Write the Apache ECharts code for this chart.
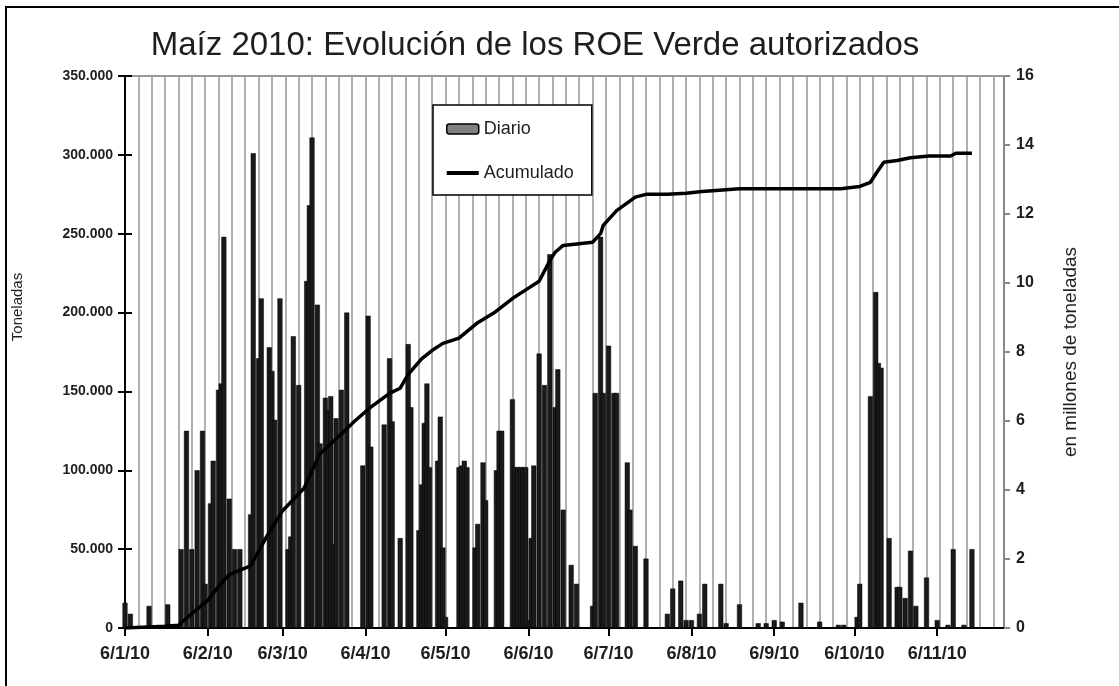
<!DOCTYPE html>
<html>
<head>
<meta charset="utf-8">
<title>Maíz 2010: Evolución de los ROE Verde autorizados</title>
<script src="https://cdn.jsdelivr.net/npm/echarts@6/dist/echarts.min.js"></script>
<style>
  html, body { margin: 0; padding: 0; background: #fff; }
  #chart { width: 1119px; height: 686px; }
</style>
</head>
<body>
<div id="chart"></div>
<script>
// ROE Verde maíz 2010 - toneladas diarias y acumulado (millones)
var diarioFechas = [
  '2010-01-06', '2010-01-08', '2010-01-15', '2010-01-22', '2010-01-27', '2010-01-29', '2010-01-31',
  '2010-02-02', '2010-02-04', '2010-02-05', '2010-02-07', '2010-02-08', '2010-02-10', '2010-02-11',
  '2010-02-12', '2010-02-14', '2010-02-16', '2010-02-18', '2010-02-22', '2010-02-23', '2010-02-25',
  '2010-02-26', '2010-03-01', '2010-03-02', '2010-03-03', '2010-03-05', '2010-03-08', '2010-03-09',
  '2010-03-10', '2010-03-12', '2010-03-15', '2010-03-16', '2010-03-17', '2010-03-19', '2010-03-20',
  '2010-03-22', '2010-03-23', '2010-03-24', '2010-03-25', '2010-03-26', '2010-03-28', '2010-03-30',
  '2010-04-05', '2010-04-07', '2010-04-08', '2010-04-13', '2010-04-15', '2010-04-16', '2010-04-19',
  '2010-04-22', '2010-04-23', '2010-04-26', '2010-04-27', '2010-04-28', '2010-04-29', '2010-04-30',
  '2010-05-03', '2010-05-04', '2010-05-05', '2010-05-06', '2010-05-11', '2010-05-12', '2010-05-13',
  '2010-05-14', '2010-05-17', '2010-05-18', '2010-05-20', '2010-05-21', '2010-05-25', '2010-05-26',
  '2010-05-27', '2010-05-31', '2010-06-01', '2010-06-02', '2010-06-03', '2010-06-04', '2010-06-05',
  '2010-06-06', '2010-06-07', '2010-06-08', '2010-06-10', '2010-06-12', '2010-06-14', '2010-06-16',
  '2010-06-17', '2010-06-19', '2010-06-22', '2010-06-24', '2010-06-30', '2010-07-01', '2010-07-03',
  '2010-07-04', '2010-07-06', '2010-07-08', '2010-07-09', '2010-07-13', '2010-07-14', '2010-07-16',
  '2010-07-20', '2010-07-28', '2010-07-30', '2010-08-02', '2010-08-04', '2010-08-06', '2010-08-09',
  '2010-08-11', '2010-08-17', '2010-08-19', '2010-08-24', '2010-08-31', '2010-09-03', '2010-09-06',
  '2010-09-09', '2010-09-16', '2010-09-23', '2010-09-30', '2010-10-02', '2010-10-07', '2010-10-08',
  '2010-10-12', '2010-10-14', '2010-10-15', '2010-10-16', '2010-10-19', '2010-10-22', '2010-10-23',
  '2010-10-25', '2010-10-27', '2010-10-29', '2010-11-02', '2010-11-06', '2010-11-10', '2010-11-12',
  '2010-11-16', '2010-11-19'
];
var diarioToneladas = [
  16000, 9000, 14000, 15000, 50000, 125000, 50000,
  100000, 125000, 28000, 79000, 106000, 151000, 155000,
  248000, 82000, 50000, 50000, 72000, 301000, 171000,
  209000, 178000, 163000, 132000, 209000, 50000, 58000,
  185000, 154000, 220000, 268000, 311000, 205000, 117000,
  146000, 138000, 147000, 53000, 133000, 151000, 200000,
  103000, 198000, 115000, 129000, 171000, 131000, 57000,
  180000, 140000, 62000, 91000, 130000, 155000, 102000,
  106000, 134000, 51000, 7000, 102000, 103000, 106000,
  102000, 51000, 66000, 105000, 81000, 100000, 125000,
  125000, 145000, 102000, 102000, 102000, 102000, 102000,
  5000, 57000, 103000, 174000, 154000, 237000, 140000,
  164000, 75000, 40000, 28000, 14000, 149000, 248000,
  149000, 179000, 149000, 149000, 105000, 75000, 52000,
  44000, 9000, 25000, 30000, 5000, 5000, 9000,
  28000, 28000, 3000, 15000, 3000, 3000, 5000,
  4000, 16000, 4000, 2000, 2000, 7000, 28000,
  147000, 213000, 168000, 165000, 57000, 26000, 26000,
  19000, 49000, 14000, 32000, 5000, 2000, 50000,
  2000, 50000
];

var acumFechas = [
  '2010-01-06', '2010-01-21', '2010-01-26', '2010-01-30', '2010-02-06', '2010-02-10', '2010-02-14',
  '2010-02-22', '2010-02-28', '2010-03-06', '2010-03-14', '2010-03-20', '2010-03-27', '2010-04-02',
  '2010-04-08', '2010-04-15', '2010-04-19', '2010-04-22', '2010-04-27', '2010-05-01', '2010-05-05',
  '2010-05-11', '2010-05-18', '2010-05-24', '2010-05-31', '2010-06-05', '2010-06-10', '2010-06-14',
  '2010-06-16', '2010-06-19', '2010-06-30', '2010-07-03', '2010-07-04', '2010-07-09', '2010-07-16',
  '2010-07-20', '2010-07-28', '2010-08-04', '2010-08-10', '2010-08-24', '2010-10-01', '2010-10-08',
  '2010-10-12', '2010-10-14', '2010-10-17', '2010-10-22', '2010-10-27', '2010-11-03', '2010-11-11',
  '2010-11-13', '2010-11-19'
];
var acumMillones = [
  0, 0.05, 0.08, 0.35, 0.8, 1.2, 1.55,
  1.8, 2.65, 3.4, 4.05, 5.05, 5.55, 6.0,
  6.4, 6.8, 6.95, 7.35, 7.8, 8.05, 8.25,
  8.4, 8.85, 9.13, 9.55, 9.8, 10.05, 10.65,
  10.89, 11.09, 11.18, 11.43, 11.67, 12.1, 12.49,
  12.57, 12.57, 12.6, 12.65, 12.73, 12.73, 12.8,
  12.92, 13.16, 13.5, 13.55, 13.63, 13.68, 13.68,
  13.76, 13.76
];

// etiquetas del eje x (el 6 de cada mes)
var etiquetasX = [
  '2010-01-06', '2010-02-06', '2010-03-06', '2010-04-06', '2010-05-06', '2010-06-06',
  '2010-07-06', '2010-08-06', '2010-09-06', '2010-10-06', '2010-11-06'
];
var inicioEje = '2010-01-06';
var finEje = '2010-12-01';

// fecha -> dias desde el inicio del eje
function dia(s) {
  var p = s.split('-');
  var t = Date.UTC(+p[0], +p[1] - 1, +p[2]);
  var q = inicioEje.split('-');
  return Math.round((t - Date.UTC(+q[0], +q[1] - 1, +q[2])) / 86400000);
}
function etiqueta(d) {
  var q = inicioEje.split('-');
  var f = new Date(Date.UTC(+q[0], +q[1] - 1, +q[2]) + d * 86400000);
  return f.getUTCDate() + '/' + (f.getUTCMonth() + 1) + '/' + String(f.getUTCFullYear()).slice(2);
}
function pares(fechas, valores) {
  return fechas.map(function (f, i) { return [dia(f), valores[i]]; });
}

var diasTotales = dia(finEje);
var fuente = "'Liberation Sans', Arial, sans-serif";

var chart = echarts.init(document.getElementById('chart'));
var option = {
  backgroundColor: '#fff',
  animation: false,
  textStyle: { fontFamily: fuente },
  graphic: [
    {
      type: 'rect', z: -1, silent: true,
      shape: { x: 6, y: 7, width: 1200, height: 800 },
      style: { fill: 'none', stroke: '#000', lineWidth: 2 }
    },
    {
      type: 'text', silent: true,
      x: 535, y: 46,
      style: {
        text: 'Maíz 2010: Evolución de los ROE Verde autorizados',
        textAlign: 'center', textVerticalAlign: 'middle',
        font: "33px 'Liberation Sans', Arial, sans-serif",
        fill: '#1e1e1e'
      }
    },
    {
      type: 'text', silent: true,
      x: 18, y: 307, rotation: Math.PI / 2,
      style: {
        text: 'Toneladas', textAlign: 'center', textVerticalAlign: 'middle',
        font: "15px 'Liberation Sans', Arial, sans-serif", fill: '#1e1e1e'
      }
    },
    {
      type: 'text', silent: true,
      x: 1071, y: 352, rotation: Math.PI / 2,
      style: {
        text: 'en millones de toneladas', textAlign: 'center', textVerticalAlign: 'middle',
        font: "19px 'Liberation Sans', Arial, sans-serif", fill: '#1e1e1e'
      }
    }
  ],
  legend: {
    orient: 'vertical',
    left: 433,
    top: 105,
    padding: [15, 18, 13, 13],
    itemGap: 26,
    itemWidth: 32,
    itemHeight: 10,
    backgroundColor: '#fff',
    borderColor: '#000',
    borderWidth: 1.5,
    borderRadius: 0,
    textStyle: { fontFamily: fuente, fontSize: 18, color: '#1e1e1e' },
    data: [
      { name: 'Diario', icon: 'roundRect', itemStyle: { color: '#808080', borderColor: '#000', borderWidth: 1.5 } },
      { name: 'Acumulado', icon: 'path://M0,0 L32,0 L32,4 L0,4 Z', itemStyle: { color: '#000', borderWidth: 0 } }
    ]
  },
  grid: { left: 125, right: 115, top: 76, bottom: 58, containLabel: false },
  xAxis: [
    {
      type: 'value',
      min: 0,
      max: diasTotales,
      axisLine: { onZero: false, lineStyle: { color: '#000', width: 2 } },
      axisTick: {
        show: true, length: 8, lineStyle: { color: '#000', width: 2 },
        customValues: etiquetasX.map(dia)
      },
      axisLabel: {
        customValues: etiquetasX.map(dia),
        hideOverlap: false,
        margin: 17,
        fontFamily: fuente, fontSize: 18, fontWeight: 'bold', color: '#1e1e1e',
        formatter: function (v) { return etiqueta(v); }
      },
      splitLine: { show: false }
    },
    {
      // rejilla vertical cada 5 dias
      type: 'value',
      position: 'top',
      min: 0,
      max: diasTotales,
      interval: 5,
      axisLine: { show: true, onZero: false, lineStyle: { color: '#999', width: 2 } },
      axisTick: { show: false },
      axisLabel: { show: false },
      splitLine: { show: true, lineStyle: { color: '#b0b0b0', width: 2 } }
    }
  ],
  yAxis: [
    {
      type: 'value',
      position: 'left',
      min: 0, max: 350000, interval: 50000,
      axisLine: { show: true, onZero: false, lineStyle: { color: '#000', width: 2 } },
      axisTick: { show: true, length: 7, lineStyle: { color: '#000', width: 2 } },
      axisLabel: {
        fontFamily: fuente, fontSize: 14, fontWeight: 'bold', color: '#1e1e1e', margin: 12,
        formatter: function (v) { return v === 0 ? '0' : (v / 1000) + '.000'; }
      },
      splitLine: { show: false }
    },
    {
      type: 'value',
      position: 'right',
      min: 0, max: 16, interval: 2,
      axisLine: { show: true, onZero: false, lineStyle: { color: '#888', width: 2 } },
      axisTick: { show: true, length: 6, lineStyle: { color: '#888', width: 2 } },
      axisLabel: { fontFamily: fuente, fontSize: 16, fontWeight: 'bold', color: '#1e1e1e', margin: 12 },
      splitLine: { show: false }
    },
    {
      // marcas hacia adentro del eje izquierdo
      type: 'value',
      position: 'left',
      min: 0, max: 350000, interval: 50000,
      axisLine: { show: false, onZero: false },
      axisTick: { show: true, inside: true, length: 7, lineStyle: { color: '#000', width: 2 } },
      axisLabel: { show: false },
      splitLine: { show: false }
    }
  ],
  series: [
    {
      name: 'Diario',
      type: 'bar',
      xAxisIndex: 0,
      yAxisIndex: 0,
      barWidth: 5,
      itemStyle: { color: '#1a1a1a', borderColor: '#000', borderWidth: 0.5 },
      data: pares(diarioFechas, diarioToneladas)
    },
    {
      name: 'Acumulado',
      type: 'line',
      xAxisIndex: 0,
      yAxisIndex: 1,
      symbol: 'none',
      z: 5,
      lineStyle: { color: '#000', width: 3.5 },
      itemStyle: { color: '#000' },
      data: pares(acumFechas, acumMillones)
    }
  ]
};
chart.setOption(option);
</script>
</body>
</html>
